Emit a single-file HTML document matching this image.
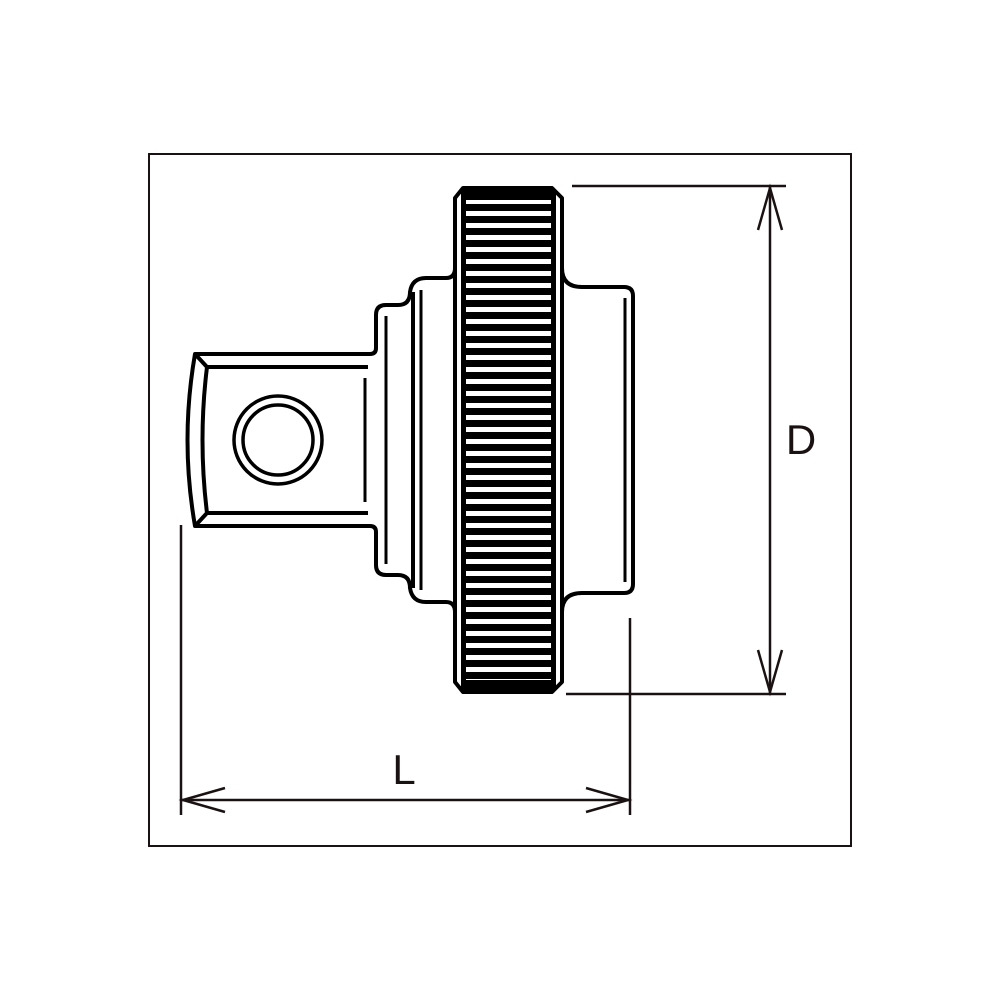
<!DOCTYPE html>
<html><head><style>html,body{margin:0;padding:0;background:#fff}svg{display:block}</style></head>
<body>
<svg width="1000" height="1000" viewBox="0 0 1000 1000" xmlns="http://www.w3.org/2000/svg">
<defs>
<pattern id="kn" x="0" y="196" width="10" height="12" patternUnits="userSpaceOnUse">
<rect x="0" y="0" width="10" height="12" fill="#000"/>
<rect x="0" y="3" width="10" height="5" fill="#fff"/>
</pattern>
</defs>
<rect x="149" y="154" width="702" height="692" fill="none" stroke="#1a1212" stroke-width="2"/>
<g fill="none" stroke="#000" stroke-width="4" stroke-linejoin="round">
<!-- square drive -->
<path d="M376,348 Q376,354 370,354 L195,354 Q180,440 195,526 L370,526 Q376,526 376,532"/>
<path d="M195,354 L207,367 L368,367 M195,526 L207,513 L368,513 M207,367 Q198,440 207,513"/>
<line x1="365" y1="378" x2="365" y2="502" stroke-width="3"/>
<circle cx="278" cy="440" r="44" stroke-width="3.5"/>
<circle cx="278" cy="440" r="35" stroke-width="3.5"/>
<!-- step 1 -->
<path d="M376,348 L376,315 Q376,305 386,305 L398,305 Q410,305 410,292 Q412,278 426,278 L446,278 Q455,278 455,268 M455,612 Q455,602 446,602 L426,602 Q412,602 410,588 Q410,575 398,575 L386,575 Q376,575 376,565 L376,532"/>
<line x1="386" y1="316" x2="386" y2="564" stroke-width="3"/>
<line x1="413" y1="292" x2="413" y2="588"/>
<line x1="421" y1="290" x2="421" y2="590" stroke-width="3"/>
<!-- right part -->
<path d="M562,268 Q562,287 582,287 L624,287 Q633,287 633,296 L633,584 Q633,593 624,593 L582,593 Q562,593 562,612"/>
<line x1="625" y1="298" x2="625" y2="582" stroke-width="3"/>
<!-- knurl outline -->
<path d="M463,188 L552,188 L562,198 L562,682 L552,692 L463,692 L455,682 L455,198 Z"/>
</g>
<rect x="461" y="190" width="95" height="500" fill="#000"/>
<rect x="466" y="200" width="85" height="480" fill="url(#kn)"/>
<!-- dimensions -->
<g stroke="#1a1212" stroke-width="2.5" fill="none">
<line x1="572" y1="186" x2="786" y2="186"/>
<line x1="566" y1="694" x2="786" y2="694"/>
<line x1="770" y1="186" x2="770" y2="694"/>
<path d="M758,230 L770,188 L782,230"/>
<path d="M758,650 L770,692 L782,650"/>
<line x1="181" y1="525" x2="181" y2="815"/>
<line x1="630" y1="618" x2="630" y2="815"/>
<line x1="181" y1="800" x2="630" y2="800"/>
<path d="M225,788 L183,800 L225,812"/>
<path d="M586,788 L628,800 L586,812"/>
</g>
<text x="801" y="454" font-family="Liberation Sans, sans-serif" font-size="42" fill="#1a1212" text-anchor="middle">D</text>
<text x="404" y="784" font-family="Liberation Sans, sans-serif" font-size="42" fill="#1a1212" text-anchor="middle">L</text>
</svg>
</body></html>
